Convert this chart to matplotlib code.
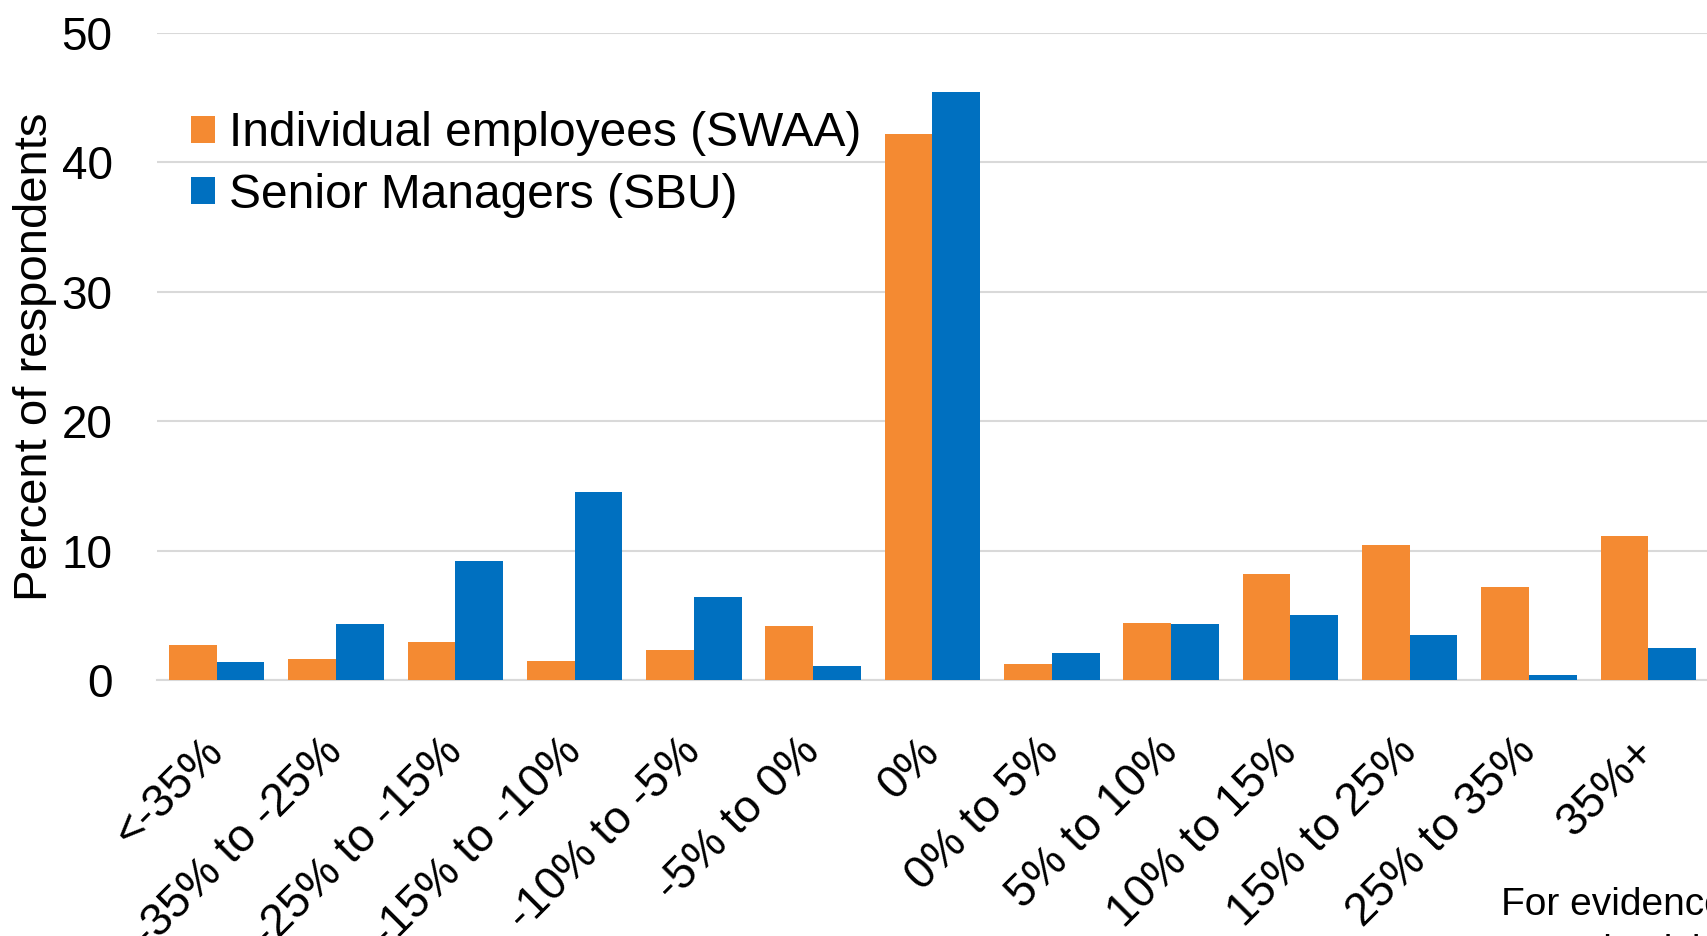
import numpy as np
import matplotlib.pyplot as plt

plt.rcParams['font.family'] = ['Liberation Sans', 'DejaVu Sans']

# Expected change in productivity from working from home (bins)
categories = ['<-35%', '-35% to -25%', '-25% to -15%', '-15% to -10%', '-10% to -5%',
              '-5% to 0%', '0%', '0% to 5%', '5% to 10%', '10% to 15%',
              '15% to 25%', '25% to 35%', '35%+']
swaa = [2.7, 1.6, 2.9, 1.5, 2.3, 4.2, 42.2, 1.2, 4.4, 8.2, 10.4, 7.2, 11.1]
sbu = [1.4, 4.3, 9.2, 14.5, 6.4, 1.1, 45.4, 2.1, 4.3, 5.0, 3.5, 0.4, 2.5]

orange = '#F48A32'
blue = '#0070C0'

fig = plt.figure(figsize=(17.08, 9.36), dpi=100)
ax = fig.add_axes([0.0919, 0.2735, 0.9081, 0.6915])

x = np.arange(len(categories))
w = 0.4
ax.bar(x - w / 2, swaa, width=w, color=orange, label='Individual employees (SWAA)', zorder=3)
ax.bar(x + w / 2, sbu, width=w, color=blue, label='Senior Managers (SBU)', zorder=3)

ax.set_xlim(-0.5, len(categories) - 0.5)
ax.set_ylim(0, 50)
ax.set_yticks([0, 10, 20, 30, 40, 50])
ax.grid(axis='y', color='#d9d9d9', linewidth=1.5, zorder=0)
for s in ['top', 'right', 'left']:
    ax.spines[s].set_visible(False)
ax.spines['bottom'].set_color('#d9d9d9')
ax.spines['bottom'].set_linewidth(1.5)

ax.tick_params(axis='y', length=0, pad=32, labelsize=33)
ax.tick_params(axis='x', length=0, pad=47, labelsize=33)
ax.set_xticks(x)
ax.set_xticklabels(categories, rotation=45, ha='right', va='center', rotation_mode='anchor')
ax.set_ylabel('Percent of respondents', fontsize=34)
ax.yaxis.set_label_coords(-0.0644, 0.5)

ax.legend(loc='upper left', bbox_to_anchor=(191 / 1708, 0.881), bbox_transform=fig.transFigure,
          frameon=False, fontsize=34.5,
          handlelength=0.5, handleheight=0.5, handletextpad=0.3, labelspacing=0.34,
          borderpad=0, borderaxespad=0)

fig.text(1501 / 1708, 1 - 915 / 936, 'For evidence on', fontsize=28, ha='left', va='baseline')
fig.text(1534 / 1708, 1 - 962 / 936, 'productivity', fontsize=28, ha='left', va='baseline')

fig.savefig('out.png', dpi=100)
